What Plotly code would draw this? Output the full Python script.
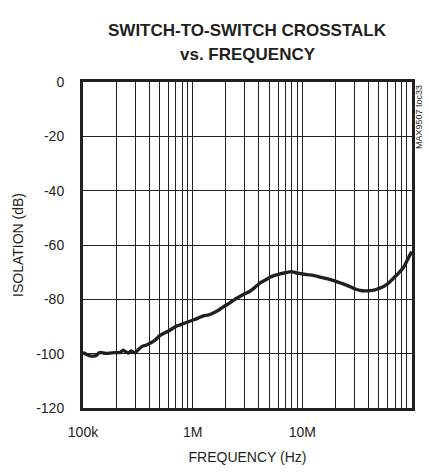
import plotly.graph_objects as go

# Switch-to-switch crosstalk measurement
freq_hz = [100e3, 108e3, 116e3, 125e3, 133e3, 140e3, 148e3, 160e3, 176e3, 195e3,
           217e3, 233e3, 247e3, 259e3, 275e3, 298e3, 320e3, 343e3, 375e3, 408e3,
           455e3, 504e3, 579e3, 640e3, 714e3, 780e3, 851e3, 1.01e6, 1.12e6, 1.25e6,
           1.40e6, 1.54e6, 1.72e6, 1.90e6, 2.2e6, 2.52e6, 2.9e6, 3.33e6, 3.7e6,
           4.10e6, 4.6e6, 5.07e6, 5.6e6, 6.25e6, 7.0e6, 7.98e6, 8.8e6, 9.86e6,
           11.0e6, 12.6e6, 14.5e6, 16.7e6, 19.0e6, 22.0e6, 24.5e6, 27.2e6, 30.0e6,
           33.5e6, 37.0e6, 41.3e6, 46.0e6, 50.9e6, 55.0e6, 58.6e6, 63.0e6, 67.4e6,
           72.0e6, 77.6e6, 82.0e6, 86.2e6, 90.0e6, 94.0e6, 97.1e6, 100e6]
isolation_db = [-99.6, -100.3, -100.8, -100.9, -100.6, -99.7, -99.6, -99.9, -99.8, -99.6,
                -99.6, -98.7, -99.4, -99.8, -99.0, -99.7, -98.5, -97.4, -96.9, -96.2,
                -95.0, -93.3, -92.0, -91.0, -89.8, -89.3, -88.7, -87.6, -86.9, -86.1,
                -85.7, -85.0, -84.0, -82.8, -81.2, -79.6, -78.2, -77.0, -75.6,
                -74.0, -72.9, -71.9, -71.2, -70.6, -70.2, -69.8, -70.3, -70.6,
                -70.9, -71.2, -71.8, -72.4, -73.0, -73.9, -74.6, -75.3, -76.1,
                -76.7, -76.9, -76.8, -76.5, -75.9, -75.3, -74.6, -73.5, -72.3,
                -71.2, -69.8, -68.7, -67.4, -65.8, -64.3, -63.2, -62.5]

x_tick_vals = [1e5, 1e6, 1e7, 1e8]
x_tick_text = ["100k", "1M", "10M", "100M"]
y_tick_vals = [0, -20, -40, -60, -80, -100, -120]
y_tick_text = ["0", "-20", "-40", "-60", "-80", "-100", "-120"]

title_lines = ["SWITCH-TO-SWITCH CROSSTALK", "vs. FREQUENCY"]
x_title = "FREQUENCY (Hz)"
y_title = "ISOLATION (dB)"
side_note = "MAX9507 toc33"

# gridlines at every 1..9 multiple of each decade
grid_vals = [m * 10 ** e for e in (5, 6, 7) for m in range(1, 10)] + [1e8]

FONT = "Liberation Sans, Arial, sans-serif"
INK = "#231f20"

fig = go.Figure()
fig.add_trace(go.Scatter(
    x=freq_hz, y=isolation_db, mode="lines",
    line=dict(color=INK, width=3.4, shape="spline", smoothing=0.4),
    hoverinfo="skip", showlegend=False,
))

fig.update_layout(
    width=429, height=473,
    margin=dict(l=83, r=17, t=82, b=65),
    paper_bgcolor="white", plot_bgcolor="white",
    font=dict(family=FONT, size=14, color=INK),
    xaxis=dict(
        type="log", range=[5, 8], automargin=False,
        tickvals=x_tick_vals, ticktext=x_tick_text,
        showgrid=False,
        minor=dict(tickvals=grid_vals, showgrid=True, gridcolor="#222", gridwidth=1, ticks=""),
        showline=True, linecolor=INK, linewidth=3, mirror=True,
        ticks="", ticklabelstandoff=9,
        title=dict(text=x_title, font=dict(size=14), standoff=14),
        zeroline=False,
    ),
    yaxis=dict(
        range=[-120, 0], tickvals=y_tick_vals, ticktext=y_tick_text, automargin=False,
        showgrid=True, gridcolor="#222", gridwidth=1,
        showline=True, linecolor=INK, linewidth=3, mirror=True,
        ticks="", ticklabelstandoff=13,
        title=dict(text=y_title, font=dict(size=14), standoff=10),
        zeroline=False,
    ),
    annotations=[
        dict(text="<b>%s</b>" % title_lines[0], x=0.5, y=30.5, xref="paper", yref="paper",
             showarrow=False, font=dict(size=17, family=FONT)),
        dict(text="<b>%s</b>" % title_lines[1], x=0.5, y=54, xref="paper", yref="paper",
             showarrow=False, font=dict(size=17, family=FONT)),
        dict(text=side_note, x=419, y=117, xref="paper", yref="paper", textangle=-90,
             showarrow=False, font=dict(size=9, family=FONT)),
    ],
)

# convert pixel positions of annotations to paper coordinates
plot_w = 429 - 83 - 17
plot_h = 473 - 82 - 65
for ann in fig.layout.annotations:
    if ann.text == side_note:
        ann.x = (ann.x - 83) / plot_w
    ann.y = (473 - 65 - ann.y) / plot_h
    ann.yanchor = "middle"
    ann.xanchor = "center"

fig.write_html("out.html")
